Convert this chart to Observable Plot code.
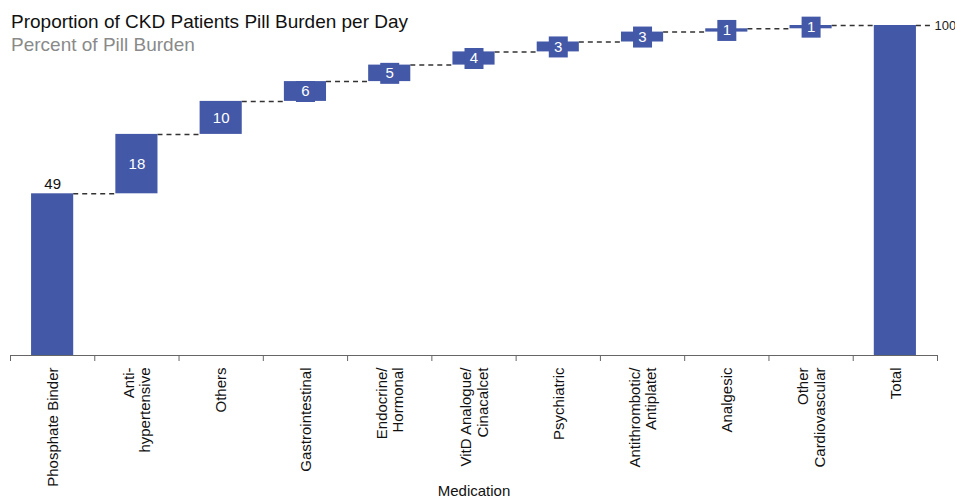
<!DOCTYPE html>
<html><head><meta charset="utf-8">
<script src="https://cdn.jsdelivr.net/npm/d3@7"></script>
<script src="https://cdn.jsdelivr.net/npm/@observablehq/plot@0.6"></script>
<style>
body{margin:0;background:#fff;font-family:"Liberation Sans",Arial,Helvetica,sans-serif;}
#wrap{position:relative;width:955px;height:504px;overflow:hidden;}
.t{position:absolute;left:11px;font-size:19px;line-height:19px;white-space:nowrap;}
#title{top:12px;color:#111;}
#subtitle{top:35px;color:#8a8a8a;}
</style></head><body>
<div id="wrap"><div id="chart"></div>
<div id="title" class="t">Proportion of CKD Patients Pill Burden per Day</div>
<div id="subtitle" class="t">Percent of Pill Burden</div>
</div>
<script>
const categories = ["Phosphate Binder","Anti-\nhypertensive","Others","Gastrointestinal","Endocrine/\nHormonal","VitD Analogue/\nCinacalcet","Psychiatric","Antithrombotic/\nAntiplatet","Analgesic","Other\nCardiovascular","Total"];
const values = [49,18,10,6,5,4,3,3,1,1,100];
const yTicks = [100];
const xTitle = "Medication";

const BAR = "#4358A7";
const half = 0.25; // half bar width in category units

let cum = 0;
const rows = categories.map((c, i) => {
  const isTotal = i === categories.length - 1;
  const start = isTotal ? 0 : cum;
  const end = isTotal ? values[i] : cum + values[i];
  if (!isTotal) cum = end;
  return {i, c, v: values[i], start, end, mid: (start + end) / 2,
          kind: i === 0 ? "first" : isTotal ? "total" : "step"};
});
const steps = rows.filter(r => r.kind === "step");
const connectors = rows.slice(0, -1).map(r => ({x1: r.i + half, x2: r.i + 1 - half, y: r.end}));
const last = rows[rows.length - 1];
const endConn = yTicks.map(v => ({x1: last.i + half, x2: last.i + 0.5, y: v}));
const boundaries = d3.range(categories.length + 1).map(k => k - 0.5);

const rectSym = {draw(ctx) { ctx.rect(-9.5, -10.5, 19, 21); }};

const chart = Plot.plot({
  width: 955, height: 504,
  marginLeft: 10, marginRight: 18, marginTop: 25, marginBottom: 149,
  style: {fontFamily: "'Liberation Sans', Arial, sans-serif", background: "#fff"},
  x: {type: "linear", domain: [-0.5, categories.length - 0.5], axis: null},
  y: {domain: [0, 100], axis: null},
  marks: [
    Plot.ruleY([0], {stroke: "#666", strokeWidth: 1}),
    Plot.ruleX(boundaries, {x: d => d, y1: 0, y2: 0, insetBottom: -6, stroke: "#666"}),
    Plot.ruleY(connectors, {x1: "x1", x2: "x2", y: "y", stroke: "#333", strokeWidth: 1.5, strokeDasharray: "5,4"}),
    Plot.ruleY(endConn, {x1: "x1", x2: "x2", y: "y", stroke: "#333", strokeWidth: 1.5, strokeDasharray: "5,4", insetRight: 4}),
    Plot.rectY(rows, {x1: d => d.i - half, x2: d => d.i + half, y1: "start", y2: "end", fill: BAR}),
    Plot.dot(steps, {x: "i", y: "mid", symbol: rectSym, r: 5, fill: BAR, stroke: null}),
    Plot.text(steps, {x: "i", y: "mid", text: d => String(d.v), fill: "white", fontSize: 15}),
    Plot.text(rows.filter(r => r.kind === "first"), {x: "i", y: "end", text: d => String(d.v), fill: "#111", fontSize: 15, lineAnchor: "bottom", dy: -5}),
    Plot.text(endConn, {x: "x2", y: "y", text: d => String(d.y), fill: "#222", fontSize: 13, textAnchor: "start", dx: -3}),
    Plot.text(rows, {x: "i", y: () => 0, text: "c", rotate: -90, textAnchor: "end", lineAnchor: "middle", lineHeight: 1.1, fontSize: 15, fill: "#111", dy: 12}),
    Plot.text([xTitle], {frameAnchor: "bottom", text: d => d, fontSize: 15, fill: "#111", dy: 140.5})
  ]
});
document.getElementById("chart").appendChild(chart);
</script>
</body></html>
